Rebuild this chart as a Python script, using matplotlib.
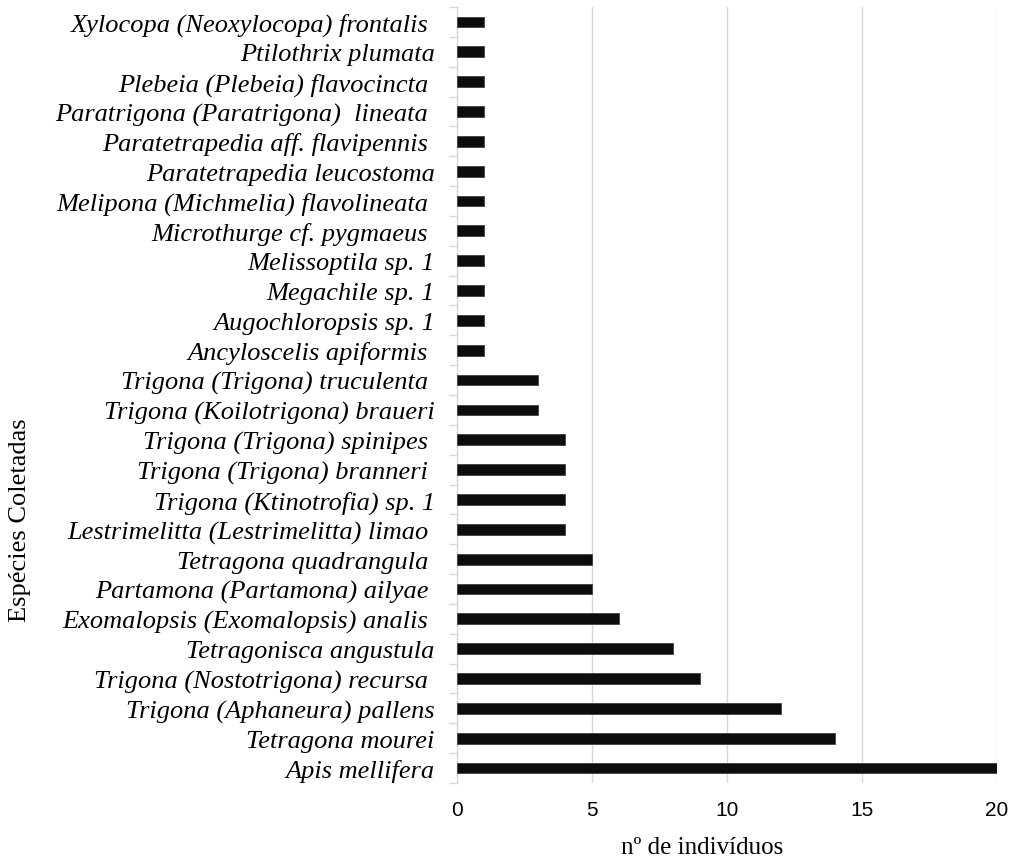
import matplotlib
matplotlib.use("Agg")
from matplotlib import pyplot as plt
import numpy as np

# species, listed from bottom (largest) to top
especies = [
    "Apis mellifera",
    "Tetragona mourei",
    "Trigona (Aphaneura) pallens",
    "Trigona (Nostotrigona) recursa ",
    "Tetragonisca angustula",
    "Exomalopsis (Exomalopsis) analis ",
    "Partamona (Partamona) ailyae ",
    "Tetragona quadrangula ",
    "Lestrimelitta (Lestrimelitta) limao ",
    "Trigona (Ktinotrofia) sp. 1",
    "Trigona (Trigona) branneri ",
    "Trigona (Trigona) spinipes ",
    "Trigona (Koilotrigona) braueri",
    "Trigona (Trigona) truculenta ",
    "Ancyloscelis apiformis ",
    "Augochloropsis sp. 1",
    "Megachile sp. 1",
    "Melissoptila sp. 1",
    "Microthurge cf. pygmaeus ",
    "Melipona (Michmelia) flavolineata ",
    "Paratetrapedia leucostoma",
    "Paratetrapedia aff. flavipennis ",
    "Paratrigona (Paratrigona)  lineata ",
    "Plebeia (Plebeia) flavocincta ",
    "Ptilothrix plumata",
    "Xylocopa (Neoxylocopa) frontalis ",
]
individuos = [20, 14, 12, 9, 8, 6, 5, 5, 4, 4, 4, 4, 3, 3,
              1, 1, 1, 1, 1, 1, 1, 1, 1, 1, 1, 1]
xticks = [0, 5, 10, 15, 20]

W, H = 1012, 862
fig = plt.figure(figsize=(W / 100, H / 100), dpi=100)
ax = fig.add_axes([457 / W, 1 - 784 / H, 540 / W, 776 / H])

y = np.arange(len(especies))
ax.barh(y, individuos, height=0.36, color="#0d0d0d", edgecolor="#404040", linewidth=0.6, zorder=3)

ax.set_xlim(0, 20)
ax.set_ylim(-0.5, len(especies) - 0.5)
ax.set_xticks(xticks)
ax.set_xticklabels([str(t) for t in xticks], family="Liberation Sans", fontsize=15)
ax.tick_params(axis="x", length=0, pad=12)

# category boundary ticks like a spreadsheet chart
ax.set_yticks(np.arange(len(especies) + 1) - 0.5, minor=False)
ax.set_yticklabels([])
ax.set_yticks(y, minor=True)
ax.set_yticklabels(especies, minor=True, family="Liberation Serif", style="italic", fontsize=19)
ax.tick_params(axis="y", which="major", length=6, color="#d9d9d9", width=1)
ax.tick_params(axis="y", which="minor", length=0, pad=16)

ax.grid(axis="x", color="#d9d9d9", linewidth=1, zorder=0)
for s in ["top", "right", "bottom"]:
    ax.spines[s].set_visible(False)
ax.spines["left"].set_color("#d9d9d9")
ax.spines["left"].set_linewidth(1)

fig.text(702 / W, 1 - 848 / H, "nº de indivíduos", ha="center", va="center",
         family="Liberation Serif", fontsize=18)
fig.text(20 / W, 1 - 520 / H, "Espécies Coletadas", ha="center", va="center",
         rotation=90, family="Liberation Serif", fontsize=19)

fig.savefig("out.png", dpi=100)
